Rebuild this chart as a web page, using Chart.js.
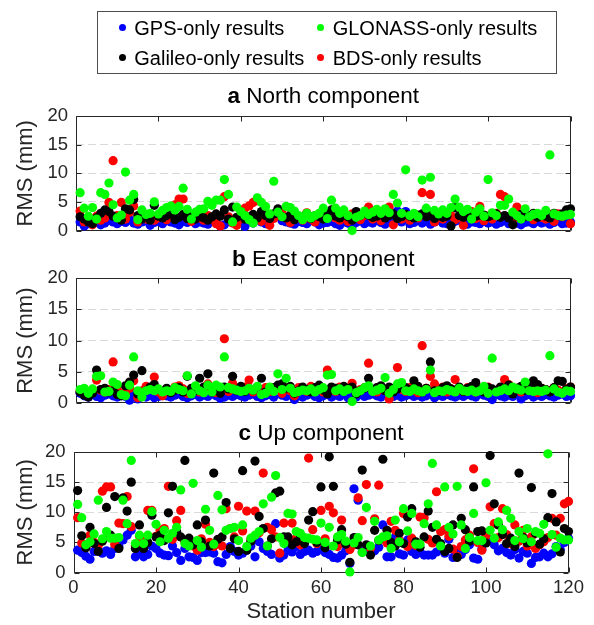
<!DOCTYPE html>
<html>
<head>
<meta charset="utf-8">
<script src="https://cdn.jsdelivr.net/npm/chart.js@4.4.1/dist/chart.umd.min.js"></script>
<style>
  html, body { margin: 0; padding: 0; background: #fff; }
  #page { position: relative; width: 594px; height: 625px; overflow: hidden; font-family: "Liberation Sans", Arial, Helvetica, sans-serif; }
  canvas { position: absolute; left: 0; top: 0; }
  #legend { position: absolute; left: 97px; top: 11px; width: 460px; height: 63px; border: 1px solid #4d4d4d; box-sizing: border-box; }
  .item { position: absolute; font-size: 20px; line-height: 20px; color: #000; white-space: nowrap; }
  .dot { position: absolute; width: 7px; height: 7px; border-radius: 50%; }
</style>
</head>
<body>
<div id="page">
  <canvas id="north" width="594" height="625"></canvas>
  <canvas id="east" width="594" height="625"></canvas>
  <canvas id="up" width="594" height="625"></canvas>
  <div id="legend"></div>
</div>
<script>
// station numbers 1..120 (x categories)
const stations = Array.from({length: 120}, (_, i) => i + 1);

const seriesNames = ['GPS-only results', 'GLONASS-only results', 'Galileo-only results', 'BDS-only results'];

// ---- a North component (mm) ----
const northGps = [
  1.5,0.8,1.2,1.6,1.4,1.0,1.3,1.8,1.5,1.2,
  1.6,1.4,1.9,1.3,1.1,1.5,1.7,0.9,1.4,1.6,
  1.2,1.8,1.5,1.3,1.0,1.6,1.4,1.9,1.2,1.5,
  1.3,1.1,1.7,1.4,0.8,1.0,1.6,1.5,1.2,1.8,
  0.7,1.6,1.3,1.9,1.5,1.2,2.2,2.8,3.4,1.7,
  1.5,1.3,1.1,1.6,1.4,1.2,1.8,1.5,1.0,1.3,
  1.4,1.6,1.2,0.9,1.5,1.3,0.6,1.4,1.7,1.2,
  1.5,1.3,1.8,1.4,1.1,1.6,2.0,3.4,1.5,3.3,
  1.2,1.4,1.7,1.3,1.6,1.1,1.5,1.9,1.3,1.2,
  1.4,1.6,1.8,1.3,1.1,1.5,1.4,1.2,1.6,1.3,
  1.5,1.1,1.4,1.7,1.2,1.6,1.3,1.0,1.4,1.5,
  1.2,1.6,1.3,1.5,1.1,1.4,1.7,1.2,1.3,1.5
];
const northGlonass = [
  6.6,3.9,2.5,4.0,2.0,6.6,6.3,8.3,4.5,2.2,
  2.7,10.2,5.3,6.3,1.9,3.6,2.8,3.0,5.0,2.9,
  3.5,4.0,4.3,3.6,4.2,7.4,3.7,2.0,3.2,3.7,
  3.8,5.1,4.4,5.3,5.3,8.9,6.3,1.5,4.1,3.3,
  2.6,1.9,1.3,5.7,4.9,4.2,2.9,8.6,3.2,2.4,
  4.2,4.0,3.4,2.6,1.9,3.0,2.2,2.6,3.0,3.9,
  2.1,5.3,3.9,3.0,3.6,2.6,0.0,2.3,2.6,3.4,
  2.8,3.2,3.7,3.0,3.8,3.1,6.3,4.8,3.0,10.6,
  2.6,3.0,2.4,8.8,3.9,9.3,3.5,2.9,3.6,3.0,
  4.0,5.5,4.1,3.3,3.7,2.0,3.2,3.8,2.5,8.9,
  3.1,2.6,4.4,4.4,5.5,3.2,2.6,2.0,3.8,2.4,
  2.8,3.0,2.6,3.5,13.2,2.9,2.6,2.5,2.7,2.8
];
const northGalileo = [
  2.4,2.0,1.5,1.2,2.2,3.0,3.6,3.3,2.5,2.2,
  1.8,3.8,3.6,5.4,2.6,2.0,2.4,1.8,4.4,2.5,
  2.2,2.6,3.0,1.9,2.3,2.8,2.1,2.5,2.0,2.6,
  2.2,1.8,2.4,2.9,2.5,3.6,2.0,4.1,2.3,2.6,
  2.0,2.4,2.8,2.2,3.3,2.6,2.1,2.9,3.8,2.4,
  2.2,2.7,1.9,2.5,2.3,2.8,2.1,2.6,2.4,2.0,
  2.8,3.6,2.5,2.2,2.9,2.4,1.8,3.3,2.6,3.0,
  2.7,2.3,2.5,3.0,2.2,2.6,2.9,2.1,2.4,2.8,
  2.5,2.2,2.7,2.9,2.4,2.6,2.1,2.8,2.3,2.5,
  0.8,4.0,2.6,2.3,2.9,2.2,2.5,2.7,2.7,2.4,
  2.7,2.9,2.3,2.6,2.2,1.0,2.5,2.8,2.4,2.6,
  3.0,2.3,2.7,2.5,2.2,3.0,2.6,2.9,3.6,3.8
];
const northBds = [
  3.4,1.5,2.3,1.0,2.5,1.8,2.2,4.9,12.2,2.6,
  4.9,2.0,3.2,4.3,1.5,2.4,2.0,2.8,1.8,2.2,
  2.6,1.9,2.5,4.5,5.5,5.5,2.1,1.6,2.9,2.2,
  1.8,2.6,2.0,1.2,0.8,5.9,2.4,1.3,0.9,2.0,
  3.9,4.3,4.9,5.2,1.6,2.8,0.9,2.1,2.6,3.0,
  2.2,1.4,2.7,2.4,1.8,3.1,2.0,1.5,2.3,2.9,
  2.5,3.5,2.2,1.8,2.5,1.6,2.9,2.3,1.9,2.6,
  4.1,2.0,2.8,1.7,3.5,4.1,1.0,2.3,2.0,2.6,
  1.8,2.7,2.2,6.6,2.9,6.3,1.5,2.4,2.0,3.0,
  2.6,1.9,2.3,0.9,2.8,3.3,2.1,4.2,1.7,2.5,
  2.0,3.0,6.3,5.9,2.4,1.8,4.1,2.2,3.0,2.5,
  1.9,2.7,2.3,2.0,2.8,1.6,2.9,2.4,3.1,1.2
];

// ---- b East component (mm) ----
const eastGps = [
  1.6,1.2,1.0,1.4,1.1,0.9,1.3,1.5,1.2,1.0,
  1.3,1.1,0.5,1.4,0.7,1.2,1.0,1.3,0.9,1.1,
  1.4,1.2,1.0,1.3,1.5,1.1,0.9,1.2,1.4,1.0,
  1.3,1.1,1.5,1.2,0.8,1.0,1.3,1.1,1.4,1.2,
  1.0,1.3,1.5,1.1,0.9,1.2,1.4,1.0,2.6,1.3,
  1.1,1.4,0.6,1.2,1.0,1.3,1.5,1.1,0.9,1.2,
  1.4,1.0,1.3,1.1,1.5,0.9,1.2,1.0,1.4,1.1,
  1.3,1.5,1.2,1.0,1.4,0.8,1.1,1.3,1.0,1.2,
  1.4,1.1,1.3,1.0,1.2,1.5,0.9,1.3,1.1,1.4,
  1.2,1.0,1.3,1.1,1.4,1.2,1.0,1.5,1.3,1.1,
  0.6,1.4,1.2,1.0,1.3,1.1,1.5,0.7,1.2,1.4,
  1.0,1.3,1.1,1.4,1.2,1.0,1.3,1.5,1.1,1.2
];
const eastGlonass = [
  2.2,2.4,1.6,2.3,4.3,4.4,1.8,1.9,3.4,3.0,
  1.4,1.2,2.9,7.4,2.0,1.0,2.0,2.2,2.0,2.3,
  1.8,2.0,1.9,2.5,2.2,2.0,4.4,1.5,2.8,2.0,
  1.7,2.9,1.8,2.9,2.6,7.4,2.5,2.3,2.1,1.9,
  2.0,2.4,2.1,2.7,1.4,1.6,2.6,1.9,4.7,2.2,
  4.0,2.4,1.7,1.9,2.1,2.0,2.3,1.8,2.2,2.5,
  4.5,4.6,2.0,2.3,1.9,2.2,0.3,1.7,2.0,2.5,
  2.8,1.9,2.1,2.4,4.1,1.6,2.2,3.1,3.3,2.0,
  1.9,2.3,2.0,1.8,2.2,5.3,1.7,2.0,1.9,2.2,
  2.0,1.8,2.4,2.0,1.9,2.1,1.8,2.0,2.7,1.6,
  7.2,1.8,2.0,2.3,2.0,2.6,2.3,2.1,3.4,2.0,
  1.9,2.0,1.9,2.1,7.6,2.3,1.8,1.6,2.0,1.9
];
const eastGalileo = [
  1.8,1.3,1.0,1.6,5.3,2.2,2.4,1.8,2.0,1.4,
  1.2,2.8,3.4,4.5,1.5,5.2,2.0,2.6,3.0,2.2,
  1.9,2.4,1.7,2.1,2.5,1.8,4.3,2.4,2.0,4.0,
  2.6,4.7,1.8,2.1,1.6,2.6,2.3,4.3,2.0,2.7,
  1.9,2.4,2.1,2.6,4.0,1.8,2.2,2.5,2.9,3.1,
  2.4,2.7,1.6,2.0,2.6,2.2,1.8,2.5,2.9,2.1,
  1.5,2.6,2.4,2.1,2.7,2.3,2.6,1.5,2.0,2.4,
  4.0,2.2,2.5,2.8,2.0,2.6,1.8,2.3,2.9,2.5,
  2.2,3.6,2.7,1.8,2.4,6.6,2.0,1.9,2.5,2.8,
  2.3,2.1,2.6,1.9,2.4,2.7,3.3,2.2,1.8,2.5,
  2.3,2.0,2.6,2.2,2.9,1.5,2.4,2.7,2.1,2.5,
  3.6,3.0,2.4,2.2,1.8,2.5,3.6,3.5,2.2,2.6
];
const eastBds = [
  1.9,1.6,1.4,2.0,3.7,2.1,1.8,2.2,6.6,2.3,
  1.5,1.7,2.4,3.6,0.9,2.0,2.7,2.5,4.2,1.8,
  1.2,2.2,1.9,2.6,2.8,2.3,1.6,2.1,2.5,1.8,
  2.0,3.1,2.2,1.7,2.4,10.3,1.9,3.2,2.4,2.0,
  2.6,3.7,1.8,2.3,2.1,2.5,1.9,2.2,2.8,1.6,
  2.4,2.0,1.2,2.5,2.2,1.9,2.7,2.1,2.4,1.8,
  5.3,2.3,1.9,2.6,2.0,2.4,3.2,1.7,2.2,2.5,
  6.4,2.1,1.8,2.4,2.0,0.7,2.3,5.7,2.2,1.9,
  2.5,2.1,1.7,9.2,2.4,4.3,3.1,2.0,2.6,1.8,
  2.3,3.8,2.1,1.9,2.5,2.2,1.8,2.4,2.0,2.6,
  2.2,1.9,2.5,3.8,3.0,2.1,2.4,1.8,2.3,2.6,
  2.0,1.7,2.4,2.2,1.9,2.5,2.1,1.8,2.3,2.6
];

// ---- c Up component (mm) ----
const upGps = [
  3.7,3.3,2.7,2.2,3.5,3.7,3.2,3.6,3.0,4.0,
  4.3,5.4,6.2,7.0,2.6,3.5,2.6,3.0,4.4,4.0,
  3.2,2.9,2.8,4.4,3.3,2.0,4.0,2.6,2.5,2.0,
  3.3,3.3,3.4,3.2,1.8,1.6,3.0,4.3,3.5,2.9,
  3.2,3.7,4.4,2.6,5.1,4.0,3.5,3.0,8.1,2.4,
  2.9,3.7,3.4,4.3,3.0,3.5,3.7,3.2,3.5,4.3,
  3.3,3.0,2.5,2.4,2.9,3.6,1.5,13.9,12.0,3.4,
  3.8,3.1,3.6,4.2,7.9,2.6,2.6,5.9,3.1,2.9,
  5.4,3.5,3.0,3.3,2.9,2.9,2.9,3.4,3.8,3.2,
  5.5,2.5,3.6,3.0,3.8,4.6,2.4,2.2,3.9,5.5,
  5.4,4.6,3.6,4.0,3.3,2.9,3.8,2.4,3.5,3.2,
  1.5,2.5,2.6,3.2,2.6,3.1,4.3,3.8,5.0,5.7
];
const upGlonass = [
  11.3,9.1,4.6,5.1,6.4,12.0,5.6,6.8,5.7,5.7,
  5.8,12.0,8.1,18.6,4.8,6.2,4.8,6.2,10.1,8.0,
  5.1,7.0,5.7,6.5,7.5,13.7,4.8,4.4,14.8,5.3,
  4.2,10.5,7.0,4.7,12.8,10.4,7.0,7.3,7.5,5.3,
  7.9,4.3,5.7,6.2,6.8,11.4,4.4,12.5,16.1,5.8,
  4.8,9.8,9.7,6.8,6.5,5.8,5.7,5.5,5.4,8.2,
  5.0,7.5,4.4,5.9,6.3,5.2,0.1,4.9,5.8,3.3,
  10.8,4.4,8.5,5.4,5.9,6.1,4.0,8.7,5.1,10.6,
  6.9,9.8,4.7,4.7,8.1,11.4,18.1,7.9,4.4,14.2,
  7.5,6.4,14.3,7.9,4.0,5.8,9.8,5.3,5.3,14.9,
  7.0,5.7,8.4,7.1,10.3,9.0,5.3,6.8,5.6,7.3,
  5.1,6.8,6.5,8.0,19.7,6.3,4.2,5.7,5.4,5.4
];
const upGalileo = [
  13.6,6.1,4.1,7.5,4.8,3.5,5.2,10.8,6.2,12.6,
  4.0,12.4,10.2,15.0,4.0,7.9,4.0,5.0,9.5,5.9,
  6.2,5.3,9.9,14.3,6.8,5.9,18.6,5.7,4.6,7.9,
  5.1,8.7,4.4,16.5,5.5,5.9,11.6,4.0,5.6,3.5,
  16.9,3.7,5.2,18.5,9.3,7.3,4.4,5.6,13.2,13.5,
  5.9,5.9,4.6,5.1,6.2,4.8,8.7,10.1,5.0,14.2,
  4.1,19.2,14.3,5.4,7.1,4.7,1.7,5.8,4.6,17.0,
  4.6,2.9,7.0,5.3,18.8,7.0,5.0,4.4,6.5,4.8,
  9.2,10.6,5.1,4.2,5.9,10.2,7.5,5.5,4.8,3.5,
  4.0,7.9,2.5,9.0,7.1,5.2,14.2,6.8,6.9,4.9,
  19.4,11.4,7.9,6.3,4.8,5.7,4.3,16.5,5.8,4.9,
  14.1,6.5,4.7,5.6,9.1,13.1,8.4,3.4,7.3,6.8
];
const upBds = [
  9.1,4.9,4.2,6.2,5.0,4.5,13.5,14.2,14.2,4.7,
  8.2,8.1,12.6,7.6,4.4,6.0,5.2,10.3,10.3,6.0,
  7.0,7.3,14.3,5.5,8.6,10.3,5.1,5.6,4.4,3.7,
  5.6,8.0,5.0,4.3,4.8,4.4,10.6,7.3,5.9,11.0,
  6.9,10.2,5.5,10.2,6.6,16.5,7.5,7.1,5.9,3.2,
  8.2,5.4,8.2,5.7,4.6,5.2,19.0,7.1,4.8,10.3,
  5.6,11.0,9.9,4.3,8.7,5.0,3.8,4.6,12.4,8.6,
  14.6,4.0,8.9,14.5,5.6,4.9,8.5,7.0,5.3,9.8,
  4.3,5.7,4.5,9.2,9.1,5.5,4.9,13.4,6.8,7.1,
  6.0,3.9,2.7,4.3,5.4,6.2,17.2,5.0,3.7,6.1,
  10.9,8.1,5.8,10.6,6.3,4.8,7.9,5.2,7.0,4.4,
  5.9,4.0,4.6,5.1,5.8,9.0,6.2,9.0,11.4,11.8
];

const yTicks = [0, 5, 10, 15, 20];
const xTicks = [0, 20, 40, 60, 80, 100, 120];

const W = 594, H = 625;
const FONT = '"Liberation Sans", Arial, Helvetica, sans-serif';
const AXIS = '#262626';
const COLORS = { gps: '#0000ff', glonass: '#00ff00', galileo: '#000000', bds: '#ff0000' };

// legend (two columns, row-wise)
const legendItems = [
  { name: seriesNames[0], color: COLORS.gps, x: 122.3, y: 27.8 },
  { name: seriesNames[1], color: COLORS.glonass, x: 320.7, y: 27.8 },
  { name: seriesNames[2], color: COLORS.galileo, x: 122.3, y: 57.5 },
  { name: seriesNames[3], color: COLORS.bds, x: 320.7, y: 57.5 }
];
const page = document.getElementById('page');
legendItems.forEach(it => {
  const d = document.createElement('span');
  d.className = 'dot';
  d.style.background = it.color;
  d.style.left = (it.x - 3.5) + 'px';
  d.style.top = (it.y - 3.5) + 'px';
  page.appendChild(d);
  const t = document.createElement('span');
  t.className = 'item';
  t.textContent = it.name;
  t.style.left = (it.x + 12) + 'px';
  t.style.top = (it.y - 10) + 'px';
  page.appendChild(t);
});

// box, inward ticks and title of each panel
const framePlugin = {
  id: 'frame',
  beforeDatasetsDraw(chart, args, opts) {
    const { ctx, chartArea: a, scales: { x, y } } = chart;
    const l = Math.round(a.left) + 0.5, r = Math.round(a.right) - 0.5;
    const t = Math.round(a.top) + 0.5, b = Math.round(a.bottom) - 0.5;
    ctx.save();
    ctx.strokeStyle = AXIS;
    ctx.lineWidth = 1;
    ctx.beginPath();
    ctx.rect(l, t, r - l, b - t);
    x.ticks.forEach(tk => {
      const px = Math.round(x.getPixelForValue(tk.value)) + 0.5;
      ctx.moveTo(px, b); ctx.lineTo(px, b - 5);
      ctx.moveTo(px, t); ctx.lineTo(px, t + 5);
    });
    y.ticks.forEach(tk => {
      const py = Math.round(y.getPixelForValue(tk.value)) + 0.5;
      ctx.moveTo(l, py); ctx.lineTo(l + 5, py);
      ctx.moveTo(r, py); ctx.lineTo(r - 5, py);
    });
    ctx.stroke();

    const cx = (a.left + a.right) / 2;
    const lead = opts.letter, rest = ' ' + opts.name;
    ctx.font = 'bold 22.5px ' + FONT;
    const w1 = ctx.measureText(lead).width;
    ctx.font = '22.5px ' + FONT;
    const w2 = ctx.measureText(rest).width;
    const x0 = cx - (w1 + w2) / 2;
    ctx.fillStyle = '#000';
    ctx.textAlign = 'left';
    ctx.textBaseline = 'alphabetic';
    ctx.font = 'bold 22.5px ' + FONT;
    ctx.fillText(lead, x0, opts.titleY);
    ctx.font = '22.5px ' + FONT;
    ctx.fillText(rest, x0 + w1, opts.titleY);
    ctx.restore();
  }
};

function points(values) {
  return values.map((v, i) => ({ x: stations[i], y: v }));
}

function series(label, values, color) {
  return {
    label,
    data: points(values),
    backgroundColor: color,
    borderColor: color,
    pointRadius: 4.6,
    pointBorderWidth: 0,
    clip: 12
  };
}

function makePanel(id, panel, gps, glonass, galileo, bds) {
  return new Chart(document.getElementById(id), {
    type: 'scatter',
    data: {
      // first dataset is drawn on top
      datasets: [
        series(seriesNames[1], glonass, COLORS.glonass),
        series(seriesNames[2], galileo, COLORS.galileo),
        series(seriesNames[3], bds, COLORS.bds),
        series(seriesNames[0], gps, COLORS.gps)
      ]
    },
    options: {
      responsive: false,
      animation: false,
      events: [],
      devicePixelRatio: 1,
      layout: { padding: { left: 0, right: W - panel.right, top: panel.top, bottom: 0 } },
      plugins: {
        legend: { display: false },
        tooltip: { enabled: false },
        frame: panel
      },
      scales: {
        x: {
          type: 'linear',
          min: 0,
          max: 120,
          afterBuildTicks: s => { s.ticks = xTicks.map(v => ({ value: v })); },
          ticks: { display: panel.xLabels, color: AXIS, font: { family: FONT, size: 18.5 }, padding: 4, maxRotation: 0 },
          grid: { display: false, drawTicks: false },
          border: { display: false },
          title: { display: panel.xLabels, text: 'Station number', color: AXIS, font: { family: FONT, size: 22 }, padding: { top: 0, bottom: 0 } },
          afterFit: s => { s.height = H - panel.bottom; }
        },
        y: {
          min: 0,
          max: 20,
          afterBuildTicks: s => { s.ticks = yTicks.map(v => ({ value: v })); },
          ticks: { color: AXIS, font: { family: FONT, size: 18.5 }, padding: 8 },
          grid: {
            drawTicks: false,
            lineWidth: 1,
            color: c => (c.tick && c.tick.value > 0 && c.tick.value < 20) ? '#d9d9d9' : 'rgba(0,0,0,0)'
          },
          border: { display: false, dash: [8, 4] },
          title: { display: true, text: 'RMS (mm)', color: AXIS, font: { family: FONT, size: 22 }, padding: { top: 13, bottom: 0 } },
          afterFit: s => { s.width = panel.left; }
        }
      }
    },
    plugins: [framePlugin]
  });
}

makePanel('north', { letter: 'a', name: 'North component', left: 76, right: 570.5, top: 116, bottom: 230.5, titleY: 103.3, xLabels: false },
  northGps, northGlonass, northGalileo, northBds);
makePanel('east', { letter: 'b', name: 'East component', left: 76, right: 570.5, top: 278, bottom: 403.3, titleY: 266.3, xLabels: false },
  eastGps, eastGlonass, eastGalileo, eastBds);
makePanel('up', { letter: 'c', name: 'Up component', left: 73.5, right: 568.5, top: 452, bottom: 572.5, titleY: 440.3, xLabels: true },
  upGps, upGlonass, upGalileo, upBds);
</script>
</body>
</html>
